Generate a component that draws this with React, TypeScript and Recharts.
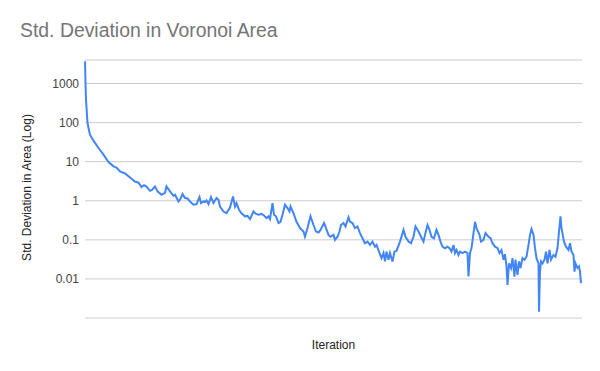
import React from "react";
import { LineChart, Line, XAxis, YAxis, CartesianGrid, Label } from "recharts";

const chartTitle = "Std. Deviation in Voronoi Area";
const xAxisTitle = "Iteration";
const yAxisTitle = "Std. Deviation in Area (Log)";
const yTicks = [0.01, 0.1, 1, 10, 100, 1000];

const iterations = [
  0, 1, 2, 5, 7, 10, 17, 27, 37, 47,
  57, 63, 70, 80, 90, 100, 107, 113, 118, 123,
  130, 134, 140, 145, 153, 160, 163, 170, 177, 180,
  187, 190, 195, 200, 205, 210, 217, 223, 229, 232,
  237, 240, 243, 247, 252, 257, 263, 267, 270, 277,
  283, 290, 296, 300, 303, 308, 313, 320, 325, 330,
  337, 342, 347, 353, 358, 363, 367, 370, 375, 378,
  382, 387, 391, 395, 400, 405, 409, 411, 417, 423,
  430, 437, 440, 445, 451, 457, 462, 467, 471, 478,
  482, 487, 491, 497, 500, 505, 509, 512, 517, 521,
  527, 530, 535, 540, 545, 550, 555, 560, 565, 570,
  575, 580, 583, 588, 593, 597, 600, 603, 607, 610,
  615, 619, 623, 630, 637, 641, 647, 652, 657, 661,
  667, 672, 677, 680, 685, 689, 693, 698, 703, 707,
  711, 715, 720, 725, 729, 733, 737, 740, 743, 747,
  750, 755, 760, 765, 767, 770, 773, 777, 780, 783,
  789, 792, 797, 801, 807, 811, 815, 820, 825, 829,
  833, 837, 840, 843, 845, 848, 852, 855, 859, 861,
  865, 868, 871, 875, 879, 883, 887, 890, 893, 897,
  900, 903, 907, 908, 910, 912, 915, 919, 922, 925,
  929, 932, 937, 941, 945, 948, 951, 953, 958, 962,
  967, 970, 973, 977, 979, 981, 985, 988, 990, 992,
];

const stdDev = [
  3700, 1000, 390, 98, 73, 49, 34.5, 22.4, 15.1, 9.8,
  7.6, 7.1, 5.6, 5.0, 3.95, 3.1, 2.9, 2.25, 2.5, 2.3,
  1.8, 1.9, 2.33, 1.74, 1.43, 1.6, 2.33, 1.74, 1.34, 1.43,
  0.96, 1.06, 1.49, 1.17, 1.15, 0.96, 0.79, 0.82, 1.24, 0.87,
  0.96, 0.93, 1.02, 0.82, 1.24, 0.87, 1.17, 1.06, 0.71, 0.53,
  0.48, 0.67, 1.29, 0.71, 0.87, 0.59, 0.48, 0.40, 0.41, 0.34,
  0.53, 0.46, 0.44, 0.46, 0.42, 0.36, 0.40, 0.34, 0.87, 0.44,
  0.40, 0.27, 0.29, 0.44, 0.79, 0.65, 0.53, 0.71, 0.48, 0.29,
  0.20, 0.163, 0.12, 0.20, 0.40, 0.24, 0.163, 0.154, 0.18, 0.27,
  0.20, 0.134, 0.12, 0.134, 0.10, 0.12, 0.163, 0.24, 0.27, 0.22,
  0.38, 0.29, 0.27, 0.20, 0.22, 0.149, 0.11, 0.082, 0.09, 0.074,
  0.09, 0.067, 0.074, 0.050, 0.034, 0.046, 0.028, 0.050, 0.031, 0.046,
  0.028, 0.050, 0.052, 0.09, 0.18, 0.12, 0.09, 0.082, 0.12, 0.22,
  0.163, 0.12, 0.09, 0.134, 0.24, 0.18, 0.12, 0.11, 0.18, 0.134,
  0.09, 0.067, 0.061, 0.067, 0.061, 0.050, 0.074, 0.046, 0.055, 0.041,
  0.050, 0.046, 0.050, 0.046, 0.0115, 0.046, 0.061, 0.149, 0.29, 0.20,
  0.134, 0.09, 0.10, 0.149, 0.12, 0.11, 0.082, 0.067, 0.061, 0.046,
  0.055, 0.031, 0.043, 0.021, 0.007, 0.025, 0.019, 0.034, 0.0115, 0.031,
  0.0127, 0.028, 0.019, 0.034, 0.031, 0.037, 0.074, 0.134, 0.19, 0.134,
  0.061, 0.034, 0.025, 0.00145, 0.0154, 0.028, 0.025, 0.031, 0.050, 0.025,
  0.055, 0.031, 0.041, 0.037, 0.061, 0.163, 0.40, 0.20, 0.09, 0.067,
  0.055, 0.082, 0.050, 0.041, 0.0154, 0.025, 0.019, 0.021, 0.0154, 0.0078,
];

const data = iterations.map((it, i) => ({ iter: it, sd: stdDev[i] }));

const FONT = "'Liberation Sans', Arial, sans-serif";

export default function App() {
  return (
    <div style={{ position: "absolute", left: 0, top: 0, width: 600, height: 371, background: "#fff" }}>
      <div
        style={{
          position: "absolute",
          left: 20,
          top: 20.6,
          fontFamily: FONT,
          fontSize: 19.4,
          lineHeight: 1,
          color: "#757575",
          whiteSpace: "nowrap",
        }}
      >
        {chartTitle}
      </div>
      <LineChart
        width={600}
        height={371}
        data={data}
        margin={{ top: 60, right: 18, bottom: 0, left: 0 }}
      >
        <CartesianGrid vertical={false} stroke="#cccccc" strokeWidth={1} />
        <XAxis
          dataKey="iter"
          type="number"
          domain={[0, 994]}
          tick={false}
          tickLine={false}
          axisLine={false}
          height={53}
        >
          <Label
            content={(props: any) => {
              const vb = props.viewBox || { x: 0, width: 0, y: 0 };
              return (
                <text
                  x={vb.x + vb.width / 2}
                  y={349}
                  textAnchor="middle"
                  fontSize={12}
                  fontFamily={FONT}
                  fill="#222"
                >
                  {xAxisTitle}
                </text>
              );
            }}
          />
        </XAxis>
        <YAxis
          type="number"
          scale="log"
          domain={[0.001, 4000]}
          allowDataOverflow
          ticks={yTicks}
          interval={0}
          width={85}
          tickLine={false}
          axisLine={false}
          tickSize={0}
          tickMargin={6}
          tick={{ fontSize: 12, fill: "#444", fontFamily: FONT }}
          tickFormatter={(v: number) => String(v)}
        >
          <Label
            content={() => (
              <text
                x={31}
                y={187.5}
                transform="rotate(-90, 31, 187.5)"
                textAnchor="middle"
                fontSize={12}
                fontFamily={FONT}
                fill="#222"
              >
                {yAxisTitle}
              </text>
            )}
          />
        </YAxis>
        <Line
          type="linear"
          dataKey="sd"
          stroke="#4285F4"
          strokeWidth={2}
          dot={false}
          activeDot={false}
          isAnimationActive={false}
        />
      </LineChart>
    </div>
  );
}
